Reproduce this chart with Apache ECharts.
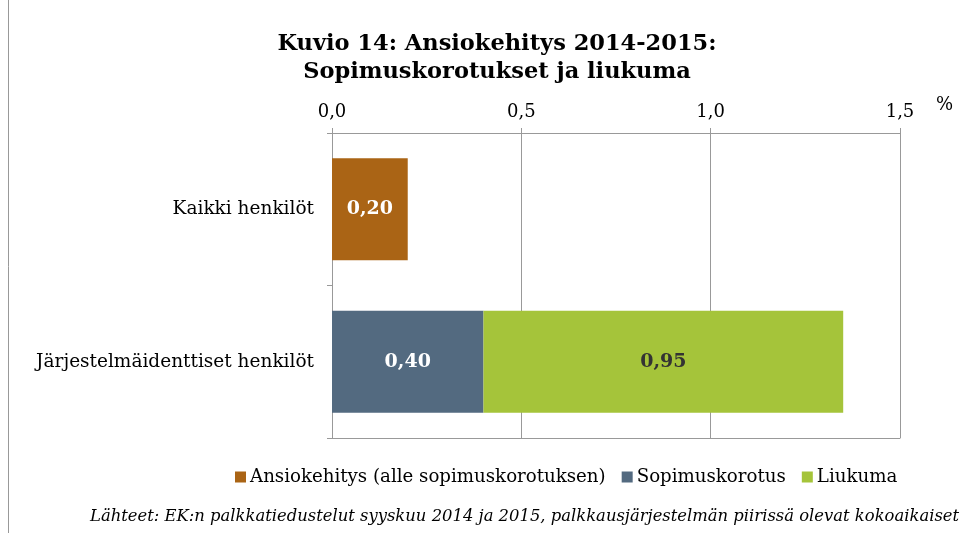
<!DOCTYPE html>
<html>
<head>
<meta charset="utf-8">
<script src="https://cdn.jsdelivr.net/npm/echarts@6/dist/echarts.min.js"></script>
<style>
html, body { margin: 0; padding: 0; background: #fff; }
#main { width: 968px; height: 533px; }
</style>
</head>
<body>
<div id="main"></div>
<script>
// ryhmät
const categories = ['Kaikki henkilöt', 'Järjestelmäidenttiset henkilöt'];
// sarjat
const seriesNames = ['Ansiokehitys (alle sopimuskorotuksen)', 'Sopimuskorotus', 'Liukuma'];
const ansiokehitys = [0.20, '-'];
const sopimuskorotus = ['-', 0.40];
const liukuma = ['-', 0.95];
// akselin arvot
const axisMin = 0;
const axisMax = 1.5;
const axisStep = 0.5;

const colors = ['#AA6415', '#536A80', '#A5C43A'];
const serif = 'DejaVu Serif';

const myChart = echarts.init(document.getElementById('main'));

function fmt(v, d) {
    return v.toFixed(d).replace('.', ',');
}

function barSeries(name, data, color, labelColor) {
    return {
        name: name,
        type: 'bar',
        stack: 'yht',
        data: data,
        barWidth: '67%',
        itemStyle: { color: color },
        label: {
            show: true,
            position: 'inside',
            color: labelColor,
            fontFamily: serif,
            fontWeight: 'bold',
            fontSize: 19,
            formatter: p => fmt(p.value, 2)
        }
    };
}

const option = {
    backgroundColor: '#fff',
    animation: false,
    title: {
        text: 'Kuvio 14: Ansiokehitys 2014-2015:\nSopimuskorotukset ja liukuma',
        left: 492,
        top: 25,
        textAlign: 'center',
        textStyle: {
            fontFamily: serif,
            fontWeight: 'bold',
            fontSize: 22.5,
            lineHeight: 28,
            color: '#000'
        }
    },
    legend: {
        data: seriesNames,
        left: 230,
        top: 463,
        itemWidth: 11,
        itemHeight: 11,
        itemGap: 16,
        icon: 'rect',
        textStyle: { fontFamily: serif, fontSize: 18.2, color: '#000', padding: [0, 0, 0, -1] }
    },
    grid: { left: 332, right: 68, top: 133, bottom: 95 },
    xAxis: [{
        type: 'value',
        position: 'top',
        min: axisMin,
        max: axisMax,
        interval: axisStep,
        axisLine: { show: true, lineStyle: { color: '#999' } },
        axisTick: { show: true, length: 5, lineStyle: { color: '#999' } },
        splitLine: { show: true, lineStyle: { color: '#999' } },
        axisLabel: {
            margin: 12,
            fontFamily: serif,
            fontSize: 18,
            color: '#000',
            formatter: v => fmt(v, 1)
        }
    }, {
        type: 'value',
        position: 'bottom',
        min: axisMin,
        max: axisMax,
        interval: axisStep,
        axisLine: { show: true, lineStyle: { color: '#999' } },
        axisTick: { show: false },
        splitLine: { show: false },
        axisLabel: { show: false }
    }],
    yAxis: {
        type: 'category',
        data: categories,
        inverse: true,
        axisLine: { show: true, lineStyle: { color: '#999' } },
        axisTick: { show: true, length: 5, lineStyle: { color: '#999' } },
        axisLabel: { margin: 18, fontFamily: serif, fontSize: 18.5, color: '#000' }
    },
    graphic: [
        {
            type: 'text',
            left: 936,
            top: 96,
            style: { text: '%', fontFamily: serif, fontSize: 18, fill: '#000' }
        },
        {
            type: 'text',
            left: 90,
            top: 509,
            style: {
                text: 'Lähteet: EK:n palkkatiedustelut syyskuu 2014 ja 2015, palkkausjärjestelmän piirissä olevat kokoaikaiset',
                fontFamily: serif,
                fontStyle: 'italic',
                fontSize: 16.4,
                fill: '#000'
            }
        },
        {
            type: 'line',
            shape: { x1: 8.5, y1: 0, x2: 8.5, y2: 533 },
            style: { stroke: '#999', lineWidth: 1 }
        }
    ],
    series: [
        barSeries(seriesNames[0], ansiokehitys, colors[0], '#fff'),
        barSeries(seriesNames[1], sopimuskorotus, colors[1], '#fff'),
        barSeries(seriesNames[2], liukuma, colors[2], '#333')
    ]
};

myChart.setOption(option);
</script>
</body>
</html>
